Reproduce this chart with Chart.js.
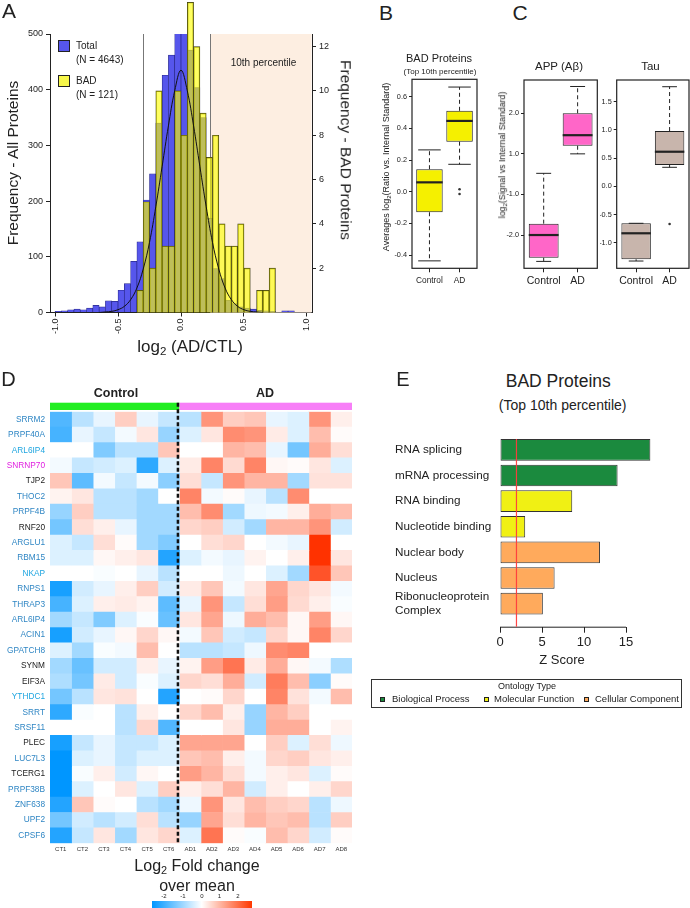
<!DOCTYPE html>
<html>
<head>
<meta charset="utf-8">
<script src="https://cdn.jsdelivr.net/npm/chart.js"></script>
<style>
html, body { margin: 0; padding: 0; background: #fff; }
#page { position: relative; width: 690px; height: 908px; overflow: hidden; font-family: "Liberation Sans", Arial, sans-serif; color: #222; }
canvas { position: absolute; }
.t { position: absolute; white-space: nowrap; line-height: 1; }
.c { transform: translate(-50%, -50%); }
.l { transform: translateY(-50%); }
.rl { transform: translate(-50%, -50%) rotate(-90deg); }
.rr { transform: translate(-50%, -50%) rotate(90deg); }
.sub { font-size: 0.68em; vertical-align: -0.3em; }
.sq { position: absolute; box-sizing: border-box; border: 1px solid #222; }
</style>
</head>
<body>
<div id="page">
  <canvas id="histA"></canvas>
  <canvas id="boxB"></canvas>
  <canvas id="boxApp"></canvas>
  <canvas id="boxTau"></canvas>
  <canvas id="heatD"></canvas>
  <canvas id="goE"></canvas>

  <!-- panel A text -->
  <div class="t c" style="left:9px;top:10px;font-size:21px">A</div>
  <div class="t rl" style="left:13px;top:163px;font-size:15.5px">Frequency - All Proteins</div>
  <div class="t rr" style="left:346px;top:150px;font-size:15.5px">Frequency - BAD Proteins</div>
  <div class="t c" style="left:190px;top:348px;font-size:17px">log<span class="sub">2</span> (AD/CTL)</div>
  <div class="sq" style="left:58px;top:40px;width:12px;height:12px;background:#5656ec"></div>
  <div class="sq" style="left:58px;top:75px;width:12px;height:12px;background:#f7f74a"></div>
  <div class="t l" style="left:76px;top:46px;font-size:10px">Total</div>
  <div class="t l" style="left:76px;top:60px;font-size:10px">(N = 4643)</div>
  <div class="t l" style="left:76px;top:81px;font-size:10px">BAD</div>
  <div class="t l" style="left:76px;top:94.5px;font-size:10px">(N = 121)</div>
  <div class="t c" style="left:263.5px;top:63px;font-size:10px">10th percentile</div>

  <!-- panel B text -->
  <div class="t c" style="left:386px;top:11.5px;font-size:21px">B</div>
  <div class="t c" style="left:439px;top:58px;font-size:11px">BAD Proteins</div>
  <div class="t c" style="left:440px;top:72px;font-size:8px">(Top 10th percentile)</div>
  <div class="t rl" style="left:386.7px;top:167px;font-size:9px">Averages log<span class="sub">2</span>(Ratio vs. Internal Standard)</div>

  <!-- panel C text -->
  <div class="t c" style="left:520px;top:11.5px;font-size:21px">C</div>
  <div class="t c" style="left:559px;top:67px;font-size:11.5px">APP (Aβ)</div>
  <div class="t c" style="left:650.5px;top:67px;font-size:11.5px">Tau</div>
  <div class="t rl" style="left:502.5px;top:155px;font-size:8.8px">log<span class="sub">2</span>(Signal vs Internal Standard)</div>

  <!-- panel D text -->
  <div class="t c" style="left:8.5px;top:378.5px;font-size:20px">D</div>
  <div class="t c" style="left:116px;top:393px;font-size:12.5px;font-weight:bold">Control</div>
  <div class="t c" style="left:265px;top:393px;font-size:12.5px;font-weight:bold">AD</div>
  <div class="t c" style="left:197px;top:867px;font-size:16px">Log<span class="sub">2</span> Fold change</div>
  <div class="t c" style="left:197px;top:886px;font-size:16px">over mean</div>
  <div style="position:absolute;left:152px;top:901px;width:100px;height:8px;background:linear-gradient(to right, rgb(0,150,255) 0%, rgb(255,255,255) 49.7%, rgb(255,55,0) 100%)"></div>
  <div class="t c" style="left:164px;top:896px;font-size:6px">-2</div>
  <div class="t c" style="left:183px;top:896px;font-size:6px">-1</div>
  <div class="t c" style="left:202px;top:896px;font-size:6px">0</div>
  <div class="t c" style="left:219.5px;top:896px;font-size:6px">1</div>
  <div class="t c" style="left:238px;top:896px;font-size:6px">2</div>

  <!-- panel E text -->
  <div class="t c" style="left:403px;top:379px;font-size:20px">E</div>
  <div class="t c" style="left:558.3px;top:381.7px;font-size:17.5px">BAD Proteins</div>
  <div class="t c" style="left:562.7px;top:405px;font-size:14px">(Top 10th percentile)</div>
  <div class="t c" style="left:562px;top:659px;font-size:13px">Z Score</div>
  <div style="position:absolute;left:371px;top:679px;width:311px;height:29px;box-sizing:border-box;border:1px solid #333"></div>
  <div class="t c" style="left:527px;top:686px;font-size:9px">Ontology Type</div>
  <div class="sq" style="left:380px;top:696.5px;width:5px;height:5px;background:#1b8a3e"></div>
  <div class="t l" style="left:392px;top:699px;font-size:9.5px">Biological Process</div>
  <div class="sq" style="left:484px;top:696.5px;width:5px;height:5px;background:#f0f014"></div>
  <div class="t l" style="left:494px;top:699px;font-size:9.5px">Molecular Function</div>
  <div class="sq" style="left:584px;top:696.5px;width:5px;height:5px;background:#ffaa5c"></div>
  <div class="t l" style="left:595px;top:699px;font-size:9.5px">Cellular Component</div>
</div>

<script>
// ---------- Panel A: histogram ----------
const binMid = [-0.975, -0.925, -0.875, -0.825, -0.775, -0.725, -0.675, -0.625, -0.575, -0.525,
                -0.475, -0.425, -0.375, -0.325, -0.275, -0.225, -0.175, -0.125, -0.075, -0.025,
                 0.025,  0.075,  0.125,  0.175,  0.225,  0.275,  0.325,  0.375,  0.425,  0.475,
                 0.525,  0.575,  0.625,  0.675,  0.725,  0.775,  0.825,  0.875,  0.925,  0.975];
const totalCounts = [2, 3, 5, 6, 5, 8, 13, 10, 21, 20,
                     40, 52, 92, 127, 202, 249, 340, 426, 462, 507,
                     519, 471, 404, 350, 169, 79, 61, 22, 16, 10,
                     8, 6, 4, 3, 2, 0, 3, 3, 0, 0];
const badCounts = [0, 0, 0, 0, 0, 0, 0, 0, 0, 0,
                   0, 0, 0, 1, 5, 2, 10, 3, 3, 10,
                   8, 14, 12, 9, 7, 8, 4, 3, 3, 4,
                   2, 0, 1, 1, 2, 0, 0, 0, 0, 0];
const fitX = [-0.65, -0.6, -0.55, -0.5, -0.45, -0.4, -0.35, -0.3, -0.25, -0.2, -0.15, -0.1, -0.05, 0,
              0.05, 0.1, 0.15, 0.2, 0.25, 0.3, 0.35, 0.4, 0.45, 0.5, 0.55, 0.6, 0.65];
const fitY = [0, 1, 2, 5, 11, 23, 44, 78, 126, 190, 262, 335, 398, 435,
              398, 335, 262, 190, 126, 78, 44, 23, 11, 5, 2, 1, 0];
const pctCuts = [-0.305, 0.233];
const histXTicks = [-1, -0.5, 0, 0.5, 1];
const histYTicks = [0, 100, 200, 300, 400, 500];
const histY2Ticks = [2, 4, 6, 8, 10, 12];

// ---------- Panel B / C: box plots ----------
const boxGroups = ['Control', 'AD'];
const badBox = { min: [-0.437, 0.173], q1: [-0.13, 0.316], med: [0.059, 0.447], q3: [0.142, 0.511], max: [0.264, 0.661], out: [[], [0.015, -0.015]] };
const badTicks = [-0.4, -0.2, 0, 0.2, 0.4, 0.6];
const badTickText = ['-0.4', '-0.2', '0.0', '0.2', '0.4', '0.6'];
const appBox = { min: [-1.65, 1.0], q1: [-1.56, 1.2], med: [-1.0, 1.46], q3: [-0.72, 2.0], max: [0.52, 2.66], out: [[], []] };
const appTicks = [-1, 0, 1, 2];
const appTickText = ['-2.0', '-1.0', '1.0', '2.0'];
const tauBox = { min: [-1.325, 0.337], q1: [-1.294, 0.378], med: [-0.833, 0.613], q3: [-0.656, 0.98], max: [-0.656, 1.766], out: [[], [-0.668]] };
const tauTicks = [-1, -0.5, 0, 0.5, 1, 1.5];
const tauTickText = ['-1.0', '-0.5', '0.0', '0.5', '1.0', '1.5'];

// ---------- Panel D: heatmap ----------
const heatColumns = ['CT1', 'CT2', 'CT3', 'CT4', 'CT5', 'CT6', 'AD1', 'AD2', 'AD3', 'AD4', 'AD5', 'AD6', 'AD7', 'AD8'];
const genes = ['SRRM2', 'PRPF40A', 'ARL6IP4', 'SNRNP70', 'TJP2', 'THOC2', 'PRPF4B', 'RNF20', 'ARGLU1', 'RBM15',
               'NKAP', 'RNPS1', 'THRAP3', 'ARL6IP4', 'ACIN1', 'GPATCH8', 'SYNM', 'EIF3A', 'YTHDC1', 'SRRT',
               'SRSF11', 'PLEC', 'LUC7L3', 'TCERG1', 'PRPF38B', 'ZNF638', 'UPF2', 'CPSF6'];
const B1 = '#2f86c4', B2 = '#1ea5e0', K = '#222', M = '#e020e0';
const geneColors = [B1, B1, B2, M, K, B1, B1, K, B1, B1,
                    B2, B1, B1, B1, B1, B1, K, K, B2, B1,
                    B1, K, B1, K, B1, B1, B1, B1];
const heatValues = [
  [-1.5, -0.6, -0.2, 0.6, -0.2, -0.5,   -0.6, 1.3, 0.6, 0.7, -0.2, -0.3, 1.3, 0.2],
  [-1.6, -0.2, -0.5, -0.1, 0.3, -0.9,   -0.3, 0.3, 1.4, 1.3, 0.25, -0.3, 0.8, 0.05],
  [0, 0, -1.1, -0.6, -0.6, 0.7,         0, 0, 0.9, 0.8, -0.2, -1.2, 1.0, 0.4],
  [-0.1, -0.5, -0.4, -0.3, -1.8, -0.3,  0.25, 1.5, 0.45, 1.5, 0.1, 0.05, 0.3, -0.3],
  [0.7, -1.4, -0.1, -0.5, -0.1, -1.0,   0.4, -0.5, 1.3, 0.9, 0.9, -0.8, 0.35, 0.35],
  [0.15, 0.3, -0.6, -0.6, -0.8, 0,      1.5, -0.1, 0.05, -0.2, -0.6, 1.4, 0, 0],
  [-0.9, 0.6, -0.6, -0.6, -0.8, -0.8,   0.8, 1.4, -0.8, -0.15, -0.1, 0.2, 1.0, 0.8],
  [-1.2, 0.4, 0.2, -0.2, -0.8, -0.8,    0.5, 0.6, -0.4, -0.8, 0.9, 0.9, 1.3, -0.4],
  [-0.3, -0.5, 0.4, 0.05, -0.8, -1.1,   0, 0.4, 0.5, 0, -0.1, -0.2, 2.5, 0],
  [-0.3, -0.3, 0.1, 0.2, 0.3, -1.9,     -0.3, -0.1, -0.2, 0.15, 0, 0.2, 2.5, 0.3],
  [0, 0, -0.05, 0, -0.2, -0.6,          0, 0, -0.15, 0, -0.3, -0.8, 2.1, 0.7],
  [-2.0, -0.4, -0.2, 0.2, 0.6, -0.4,    0.25, 0.7, -0.1, 0.3, 1.1, 0.5, 0.3, -0.1],
  [-1.6, -0.3, 0.2, 0.25, 0.15, -1.4,   -0.2, 1.3, -0.5, 0.4, 1.2, 0.45, 0.2, -0.05],
  [-0.8, -0.5, -1.1, -0.3, -0.05, -1.3, 0.3, 1.1, -0.15, 1.0, 0.8, 0.1, 1.2, 0.1],
  [-2.0, -0.4, -0.2, 0.1, 0.5, 0.1,     -0.1, 0.7, -0.4, -0.5, 0.5, 0.1, 1.5, 0.5],
  [-0.3, -0.8, -0.05, -0.1, 0.8, 0,     -0.6, -0.6, -0.5, -0.15, 1.4, 1.5, 0, 0],
  [-0.8, -1.3, -0.4, -0.4, 0.2, -0.2,   0.15, 1.2, 1.7, 0.25, 1.0, 0.1, -0.1, -0.7],
  [-0.7, -1.2, 0.25, -0.4, -0.05, -0.3, 0.5, 0.4, 1.0, -0.4, 1.6, 0.8, -1.0, 0.05],
  [-1.2, -0.6, 0.3, 0.35, 0, -1.9,      0, 0.05, 0.5, 0, 1.5, 0.35, -0.1, 0.8],
  [-1.8, -0.05, 0, -0.6, 0.2, 0,        0.5, 0.8, 0.2, -0.9, 0.9, 0.6, 0, 0],
  [0, 0, 0, -0.6, 0.5, -1.5,            0, 0, 0.3, -0.9, 1.0, 1.0, 0, 0.15],
  [-2.0, -0.5, -0.2, -0.5, -0.5, -0.3,  1.1, 1.1, 1.1, 0, 0.6, -0.3, 0.4, -0.15],
  [-2.2, -0.3, -0.2, -0.5, -0.3, -0.3,  0.7, 0.8, 0.2, -0.1, 0.5, 0.6, 0.3, 0.2],
  [-2.2, -0.05, 0.2, -0.4, 0.1, 0,      1.2, 0.9, 0.4, -0.1, 0.2, 0.3, -0.3, 0.05],
  [-2.2, -0.3, 0, 0.3, -0.3, 0.6,       0.2, 0.4, 0.9, -0.4, 0.2, 0, 0.2, 0.5],
  [-1.9, 0.7, 0.05, 0, -0.6, -0.8,      -0.15, 1.3, 0.3, 0.8, 0.6, 0.5, -0.6, -0.15],
  [-1.2, -0.4, -0.6, -0.4, 0.4, -0.6,   -0.9, 1.1, 0.4, 0.9, 0.7, 0.8, -0.6, 0.6],
  [-1.9, -0.5, 0.3, -0.8, 0.3, 0.5,     -0.3, 1.7, 0.05, -0.05, 0.8, 0.5, -0.4, 0.05]
];
const controlCount = 6;

// ---------- Panel E: GO enrichment ----------
const goTerms = ['RNA splicing', 'mRNA processing', 'RNA binding', 'Nucleotide binding', 'Nuclear body', 'Nucleus', 'Ribonucleoprotein\nComplex'];
const goZ = [17.9, 14.0, 8.6, 3.0, 11.9, 6.5, 5.1];
const goType = ['bio', 'bio', 'mol', 'mol', 'cell', 'cell', 'cell'];
const goColors = { bio: '#1b8a3e', mol: '#f0f014', cell: '#ffaa5c' };
const goXTicks = [0, 5, 10, 15];
const goCutoff = 1.96;

// ---------- helpers ----------
Chart.defaults.font.family = '"Liberation Sans", Arial, sans-serif';
Chart.defaults.color = '#222';

function place(id, r) {
  const c = document.getElementById(id);
  c.width = r.w; c.height = r.h;
  c.style.left = r.x + 'px'; c.style.top = r.y + 'px';
  return c;
}
function padFor(r, a, wl, wr, hb) {
  return { left: a.l - r.x - wl, right: r.x + r.w - a.r - wr, top: a.t - r.y, bottom: r.y + r.h - a.b - hb };
}
const noPlugins = { legend: { display: false }, tooltip: { enabled: false } };

// ---------- Panel A ----------
const bandPlugin = {
  id: 'band',
  beforeDatasetsDraw(chart) {
    const { ctx, chartArea: ca, scales: { x } } = chart;
    ctx.save();
    const xr = x.getPixelForValue(pctCuts[1]);
    ctx.fillStyle = '#fdeee1';
    ctx.fillRect(xr, ca.top, ca.right - xr - 0.5, ca.bottom - ca.top);
    ctx.strokeStyle = '#777';
    ctx.lineWidth = 1;
    pctCuts.forEach(v => {
      const px = Math.round(x.getPixelForValue(v)) + 0.5;
      ctx.beginPath(); ctx.moveTo(px, ca.top); ctx.lineTo(px, ca.bottom); ctx.stroke();
    });
    ctx.restore();
  }
};
const histRect = { x: 0, y: 0, w: 345, h: 340 };
const histArea = { l: 50, r: 312, t: 34, b: 312.5 };
const tickGrid = { drawOnChartArea: false, tickLength: 4, color: '#222' };
new Chart(place('histA', histRect), {
  type: 'bar',
  data: {
    datasets: [
      { type: 'line', data: fitX.map((x, i) => ({ x, y: fitY[i] })), yAxisID: 'y', borderColor: '#111', borderWidth: 1,
        pointRadius: 0, tension: 0.4, order: 0 },
      { data: binMid.map((x, i) => ({ x, y: badCounts[i] })), yAxisID: 'y2', backgroundColor: 'rgba(255,255,0,0.62)',
        borderColor: '#3b3b15', borderWidth: 0.7, grouped: false, barPercentage: 1, categoryPercentage: 1, clip: false, order: 1 },
      { data: binMid.map((x, i) => ({ x, y: totalCounts[i] })), yAxisID: 'y', backgroundColor: '#5656ec',
        borderColor: '#2a2a8c', borderWidth: 0.7, grouped: false, barPercentage: 1, categoryPercentage: 1, order: 2 }
    ]
  },
  options: {
    responsive: false, animation: false,
    layout: { padding: padFor(histRect, histArea, 50, 33, 27.5) },
    plugins: noPlugins,
    scales: {
      x: { type: 'linear', min: -1.04, max: 1.04, bounds: 'data', offset: false,
           afterBuildTicks: s => { s.ticks = histXTicks.map(v => ({ value: v })); },
           ticks: { minRotation: 90, maxRotation: 90, autoSkip: false, font: { size: 9 }, padding: 2, callback: v => v.toFixed(1) },
           grid: { ...tickGrid, offset: false }, border: { color: '#222' }, afterFit: s => { s.height = 27.5; } },
      y: { type: 'linear', position: 'left', min: 0, max: 500, bounds: 'data',
           afterBuildTicks: s => { s.ticks = histYTicks.map(v => ({ value: v })); },
           ticks: { font: { size: 9 }, padding: 3 }, grid: tickGrid, border: { color: '#222' },
           afterFit: s => { s.width = 50; } },
      y2: { type: 'linear', position: 'right', min: 0, max: 12.57, bounds: 'data',
            afterBuildTicks: s => { s.ticks = histY2Ticks.map(v => ({ value: v })); },
            ticks: { font: { size: 9 }, padding: 3 }, grid: tickGrid, border: { color: '#222' },
            afterFit: s => { s.width = 33; } }
    }
  },
  plugins: [bandPlugin]
});

// ---------- Panels B, C ----------
function boxChart(id, rect, area, wl, st, fill, yMin, yMax, yTicks, yText, capFrac, tickSize, labelSize) {
  const whisk = {
    id: 'whisk',
    afterDatasetsDraw(chart) {
      const { ctx, chartArea: ca, scales: { x, y } } = chart;
      const meta = chart.getDatasetMeta(0);
      ctx.save();
      ctx.strokeStyle = '#222';
      meta.data.forEach((bar, i) => {
        const cx = x.getPixelForValue(i + 1);
        const half = bar.width / 2;
        const cap = half * capFrac;
        ctx.lineWidth = 1;
        ctx.setLineDash([4, 3]);
        ctx.beginPath();
        ctx.moveTo(cx, y.getPixelForValue(st.q3[i])); ctx.lineTo(cx, y.getPixelForValue(st.max[i]));
        ctx.moveTo(cx, y.getPixelForValue(st.q1[i])); ctx.lineTo(cx, y.getPixelForValue(st.min[i]));
        ctx.stroke();
        ctx.setLineDash([]);
        ctx.beginPath();
        [st.max[i], st.min[i]].forEach(v => {
          const py = y.getPixelForValue(v);
          ctx.moveTo(cx - cap, py); ctx.lineTo(cx + cap, py);
        });
        ctx.stroke();
        ctx.lineWidth = 2.2;
        const pm = y.getPixelForValue(st.med[i]);
        ctx.beginPath(); ctx.moveTo(cx - half, pm); ctx.lineTo(cx + half, pm); ctx.stroke();
        ctx.fillStyle = '#333';
        st.out[i].forEach(v => {
          ctx.beginPath(); ctx.arc(cx, y.getPixelForValue(v), 1.3, 0, Math.PI * 2); ctx.fill();
        });
      });
      ctx.lineWidth = 1.2;
      ctx.strokeRect(ca.left, ca.top, ca.right - ca.left, ca.bottom - ca.top);
      ctx.restore();
    }
  };
  new Chart(place(id, rect), {
    type: 'bar',
    data: {
      datasets: [{
        data: st.q1.map((q, i) => ({ x: i + 1, y: [q, st.q3[i]] })),
        backgroundColor: fill, borderColor: '#222', borderWidth: 1, borderSkipped: false,
        barPercentage: 0.88, categoryPercentage: 1
      }]
    },
    options: {
      responsive: false, animation: false,
      layout: { padding: padFor(rect, area, wl, 0, 20) },
      plugins: noPlugins,
      scales: {
        x: { type: 'linear', min: 0.42, max: 2.58, bounds: 'data', offset: false,
             afterBuildTicks: s => { s.ticks = boxGroups.map((g, i) => ({ value: i + 1 })); },
             ticks: { autoSkip: false, maxRotation: 0, font: { size: labelSize }, padding: 3, callback: (v, i) => boxGroups[i] },
             grid: { drawOnChartArea: false, tickLength: 4, color: '#222', offset: false }, border: { display: false },
             afterFit: s => { s.height = 20; } },
        y: { type: 'linear', min: yMin, max: yMax, bounds: 'data',
             afterBuildTicks: s => { s.ticks = yTicks.map(v => ({ value: v })); },
             ticks: { autoSkip: false, font: { size: tickSize }, padding: 2, callback: (v, i) => yText[i] },
             grid: { drawOnChartArea: false, tickLength: 3, color: '#222' }, border: { display: false },
             afterFit: s => { s.width = wl; } }
      }
    },
    plugins: [whisk]
  });
}
boxChart('boxB', { x: 385, y: 40, w: 110, h: 260 }, { l: 412, r: 477, t: 79.3, b: 268.3 }, 27,
         badBox, '#f5f000', -0.484, 0.71, badTicks, badTickText, 0.85, 7.3, 8.3);
boxChart('boxApp', { x: 500, y: 40, w: 100, h: 260 }, { l: 524, r: 597.3, t: 80, b: 268.3 }, 24,
         appBox, '#ff66c8', -1.82, 2.82, appTicks, appTickText, 0.5, 7.3, 10.5);
boxChart('boxTau', { x: 600, y: 40, w: 90, h: 260 }, { l: 616.7, r: 689, t: 80, b: 268.3 }, 16.7,
         tauBox, '#c8b5ac', -1.454, 1.885, tauTicks, tauTickText, 0.5, 7.3, 10.5);

// ---------- Panel D ----------
function heatColor(v) {
  if (v < 0) {
    const t = Math.min(-v / 2.2, 1);
    return `rgb(${Math.round(255 * (1 - t))},${Math.round(255 - 105 * t)},255)`;
  }
  const t = Math.min(v / 2.5, 1);
  return `rgb(255,${Math.round(255 - 205 * t)},${Math.round(255 - 255 * t)})`;
}
const heatDeco = {
  id: 'heatDeco',
  afterDatasetsDraw(chart) {
    const { ctx, chartArea: ca, scales: { x } } = chart;
    const x0 = x.getPixelForValue(0), xs = x.getPixelForValue(controlCount), xe = x.getPixelForValue(heatColumns.length);
    ctx.save();
    ctx.fillStyle = '#22ee22';
    ctx.fillRect(x0, ca.top - 9, xs - x0, 7.3);
    ctx.fillStyle = '#f77ff7';
    ctx.fillRect(xs, ca.top - 9, xe - xs, 7.3);
    ctx.strokeStyle = '#111';
    ctx.lineWidth = 2.5;
    ctx.setLineDash([4, 2.5]);
    ctx.beginPath(); ctx.moveTo(xs - 1.5, ca.top - 9); ctx.lineTo(xs - 1.5, ca.bottom + 1); ctx.stroke();
    ctx.restore();
  }
};
const heatRect = { x: 0, y: 380, w: 360, h: 480 };
const heatArea = { l: 50, r: 352, t: 411.7, b: 843.3 };
new Chart(place('heatD', heatRect), {
  type: 'bar',
  data: {
    labels: genes,
    datasets: heatColumns.map((col, j) => ({
      label: col,
      data: genes.map(() => 1),
      backgroundColor: heatValues.map(row => heatColor(row[j])),
      borderWidth: 0, barPercentage: 1, categoryPercentage: 1
    }))
  },
  options: {
    indexAxis: 'y', responsive: false, animation: false,
    layout: { padding: padFor(heatRect, heatArea, 50, 0, 14) },
    plugins: noPlugins,
    scales: {
      x: { type: 'linear', stacked: true, min: 0, max: heatColumns.length, bounds: 'data',
           afterBuildTicks: s => { s.ticks = heatColumns.map((c, i) => ({ value: i + 0.5 })); },
           ticks: { autoSkip: false, maxRotation: 0, font: { size: 6 }, padding: 2, color: '#333', callback: (v, i) => heatColumns[i] },
           grid: { display: false, drawTicks: false }, border: { display: false },
           afterFit: s => { s.height = 14; } },
      y: { type: 'category', stacked: true,
           ticks: { autoSkip: false, font: { size: 8.3 }, padding: 5, color: c => geneColors[c.index] },
           grid: { display: false, drawTicks: false }, border: { display: false },
           afterFit: s => { s.width = 50; } }
    }
  },
  plugins: [heatDeco]
});

// ---------- Panel E ----------
const goDeco = {
  id: 'goDeco',
  afterDatasetsDraw(chart) {
    const { ctx, chartArea: ca, scales: { x } } = chart;
    const first = chart.getDatasetMeta(0).data[0];
    ctx.save();
    ctx.strokeStyle = '#222';
    ctx.lineWidth = 1;
    ctx.beginPath();
    ctx.moveTo(x.getPixelForValue(goXTicks[0]), ca.bottom + 0.5);
    ctx.lineTo(x.getPixelForValue(goXTicks[goXTicks.length - 1]), ca.bottom + 0.5);
    ctx.stroke();
    ctx.strokeStyle = 'rgba(255,60,60,0.95)';
    ctx.lineWidth = 1.2;
    const px = x.getPixelForValue(goCutoff);
    ctx.beginPath(); ctx.moveTo(px, first.y - first.height / 2); ctx.lineTo(px, ca.bottom); ctx.stroke();
    ctx.restore();
  }
};
const goRect = { x: 395, y: 420, w: 295, h: 240 };
const goArea = { l: 500, r: 655.4, t: 431.3, b: 626.7 };
new Chart(place('goE', goRect), {
  type: 'bar',
  data: {
    datasets: [{
      data: goZ.map((v, i) => ({ x: v, y: i })),
      backgroundColor: goType.map(t => goColors[t]),
      borderColor: '#333', borderWidth: 1, borderSkipped: false,
      barPercentage: 0.845, categoryPercentage: 1
    }]
  },
  options: {
    indexAxis: 'y', responsive: false, animation: false,
    layout: { padding: padFor(goRect, goArea, 105, 0, 20) },
    plugins: noPlugins,
    scales: {
      x: { type: 'linear', min: 0, max: 18.5, bounds: 'data',
           afterBuildTicks: s => { s.ticks = goXTicks.map(v => ({ value: v })); },
           ticks: { font: { size: 13 }, padding: 2, maxRotation: 0 },
           grid: { drawOnChartArea: false, tickLength: 6, color: '#222' }, border: { display: false },
           afterFit: s => { s.height = 20; } },
      y: { type: 'linear', reverse: true, min: -0.5, max: 6.9, bounds: 'data', offset: false,
           afterBuildTicks: s => { s.ticks = goTerms.map((t, i) => ({ value: i })); },
           ticks: { autoSkip: false, crossAlign: 'far', font: { size: 11.7 }, callback: (v, i) => goTerms[i].split('\n') },
           grid: { display: false, drawTicks: false, offset: false }, border: { display: false },
           afterFit: s => { s.width = 105; } }
    }
  },
  plugins: [goDeco]
});
</script>
</body>
</html>
